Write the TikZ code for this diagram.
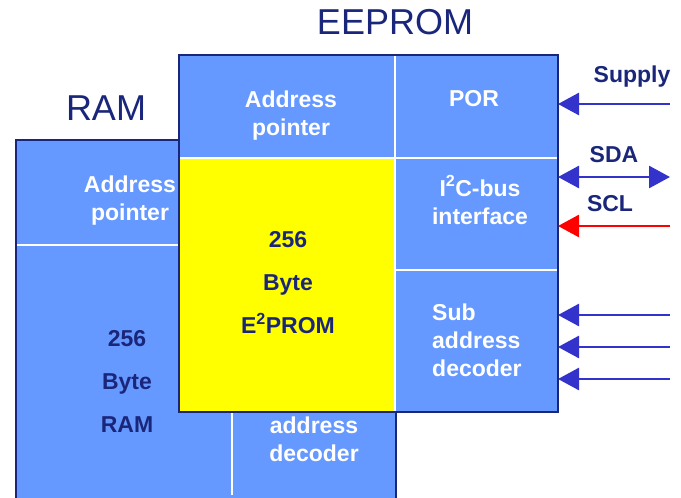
\documentclass[tikz,border=0pt]{standalone}
\usepackage{fontspec}
\setmainfont{Liberation Sans}
\usetikzlibrary{arrows.meta}
\definecolor{cellblue}{RGB}{102,153,255}
\definecolor{navy}{RGB}{26,38,122}
\definecolor{arrblue}{RGB}{51,51,204}
\definecolor{sigred}{RGB}{255,0,0}
\definecolor{memyellow}{RGB}{255,255,0}
\tikzset{
  blockbox/.style={rectangle, anchor=north west, inner sep=0, outer sep=0, fill=cellblue},
  sepline/.style={draw=white, line width=2.2pt},
  rim/.style={draw=navy, line width=1.4pt},
  wtext/.style={inner sep=0, text=white, align=center, font=\fontsize{23}{28}\selectfont\bfseries},
  ntext/.style={inner sep=0, text=navy, align=center, font=\fontsize{23}{43}\selectfont\bfseries},
  lbl/.style={inner sep=0, text=navy, font=\fontsize{23}{28}\selectfont\bfseries},
  title/.style={inner sep=0, text=navy, font=\fontsize{36}{40}\selectfont},
  arr/.style={draw=arrblue, line width=2.8pt, -{Triangle[length=21pt,width=22pt]}},
  dblarr/.style={draw=arrblue, line width=2.8pt, {Triangle[length=21pt,width=22pt]}-{Triangle[length=21pt,width=22pt]}},
  redarr/.style={draw=sigred, line width=2.8pt, -{Triangle[length=21pt,width=22pt]}},
}
\begin{document}
\begin{tikzpicture}[x=1pt,y=-1pt]
\useasboundingbox (0,0) rectangle (681,498);
% RAM block
\node[blockbox, rim, minimum width=380pt, minimum height=362pt] (ram) at (16,140) {};
\draw[sepline] (17,245) -- (232,245);
\draw[sepline] (232,246) -- (232,495);
% EEPROM block
\node[blockbox, minimum width=379pt, minimum height=357pt] (eeprom) at (179,55) {};
\node[blockbox, fill=memyellow, minimum width=216pt, minimum height=254pt] (mem) at (179,158) {};
\draw[sepline] (179,158) -- (558,158);
\draw[sepline] (395,55) -- (395,412);
\draw[sepline] (395,270) -- (558,270);
\draw[rim] (eeprom.north west) rectangle (eeprom.south east);
% titles
\node[title] (t1) at (395,22) {EEPROM};
\node[title] (t2) at (106,108) {RAM};
% texts
\node[wtext] (rap) at (130,201) {Address\\pointer};
\node[wtext] (eap) at (291,116) {Address\\pointer};
\node[wtext] (por) at (474,99) {POR};
\node[wtext] (i2c) at (480,200) {I\textsuperscript{2}C-bus\\interface};
\node[wtext, align=left, anchor=west] (sub) at (432,340) {Sub\\address\\decoder};
\node[wtext] (rad) at (314,439) {address\\decoder};
\node[ntext] (emem) at (288,283) {256\\Byte\\E\textsuperscript{2}PROM};
\node[ntext] (rmem) at (127,381) {256\\Byte\\RAM};
% signal labels
\node[lbl] (lsup) at (632,77) {Supply};
\node[lbl] (lsda) at (614,155) {SDA};
\node[lbl] (lscl) at (610,204) {SCL};
% connectors
\coordinate (csup) at (670,104);
\coordinate (csda) at (670,177);
\coordinate (cscl) at (670,226);
\coordinate (ca) at (670,315);
\coordinate (cb) at (670,347);
\coordinate (cc) at (670,379);
\draw[arr] (csup) -- (csup -| eeprom.east);
\draw[dblarr] (csda -| eeprom.east) -- (csda);
\draw[redarr] (cscl) -- (cscl -| eeprom.east);
\draw[arr] (ca) -- (ca -| eeprom.east);
\draw[arr] (cb) -- (cb -| eeprom.east);
\draw[arr] (cc) -- (cc -| eeprom.east);
\end{tikzpicture}
\end{document}
